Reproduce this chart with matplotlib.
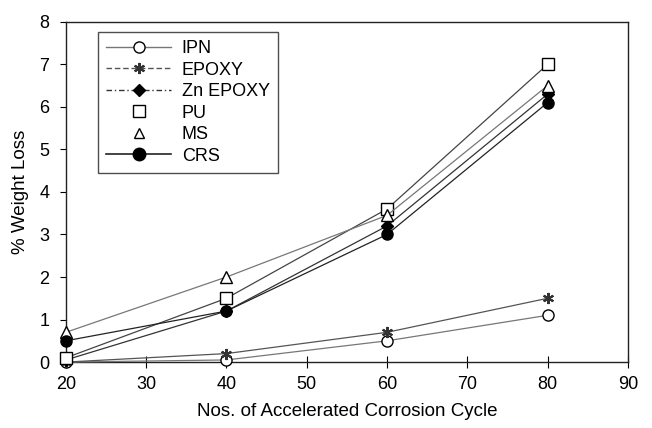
import matplotlib
matplotlib.use("Agg")
import matplotlib.pyplot as plt
from matplotlib.lines import Line2D

plt.rcParams['font.family'] = ['Liberation Sans', 'DejaVu Sans']

cycles = [20, 40, 60, 80]
ipn = [0.0, 0.05, 0.5, 1.1]
epoxy = [0.0, 0.2, 0.7, 1.5]
zn_epoxy = [0.05, 1.2, 3.2, 6.3]
pu = [0.1, 1.5, 3.6, 7.0]
ms = [0.7, 2.0, 3.45, 6.5]
crs = [0.5, 1.2, 3.0, 6.1]

x_ticks = [20, 30, 40, 50, 60, 70, 80, 90]
y_ticks = [0, 1, 2, 3, 4, 5, 6, 7, 8]

fig = plt.figure(figsize=(6.52, 4.28), dpi=100)
ax = fig.add_axes([0.101, 0.154, 0.862, 0.795])

ax.plot(cycles, ipn, color='#777777', lw=0.9, marker='o', ms=8, mfc='white', mec='black', mew=1.0, label='IPN', zorder=3, clip_on=False)
ax.plot(cycles, epoxy, color='#555555', lw=0.9, marker=(6, 2, 0), ms=8, mec='#333333', mew=1.5, label='EPOXY', zorder=3, clip_on=False)
ax.plot(cycles, zn_epoxy, color='#333333', lw=0.9, marker='D', ms=6, mfc='black', mec='black', label='Zn EPOXY', zorder=3, clip_on=False)
ax.plot(cycles, pu, color='#444444', lw=0.9, marker='s', ms=9, mfc='white', mec='black', mew=1.0, label='PU', zorder=3, clip_on=False)
ax.plot(cycles, ms, color='#777777', lw=0.9, marker='^', ms=9, mfc='white', mec='black', mew=1.0, label='MS', zorder=3, clip_on=False)
ax.plot(cycles, crs, color='#222222', lw=0.9, marker='o', ms=8, mfc='black', mec='black', label='CRS', zorder=3, clip_on=False)

ax.set_xlim(20, 90)
ax.set_ylim(0, 8)
ax.set_xticks(x_ticks)
ax.set_yticks(y_ticks)
ax.tick_params(axis='x', direction='inout', length=8, width=0.8, labelsize=13, pad=6)
ax.tick_params(axis='y', direction='out', length=4, width=0.8, labelsize=13, pad=8)
for s in ax.spines.values():
    s.set_linewidth(1.0)
    s.set_color('#222222')

ax.set_xlabel('Nos. of Accelerated Corrosion Cycle', fontsize=13.5, labelpad=7)
ax.set_ylabel('% Weight Loss', fontsize=13.5, labelpad=7)

handles = [
    Line2D([], [], color='#777777', lw=1.0, marker='o', ms=8, mfc='white', mec='black'),
    Line2D([], [], color='#555555', lw=1.0, ls=(0, (4, 2)), marker=(6, 2, 0), ms=8, mec='#333333', mew=1.5),
    Line2D([], [], color='#333333', lw=1.0, ls=(0, (4, 2, 1, 2)), marker='D', ms=6, mfc='black', mec='black'),
    Line2D([], [], color='none', marker='s', ms=8, mfc='white', mec='black'),
    Line2D([], [], color='none', marker='^', ms=7, mfc='white', mec='black'),
    Line2D([], [], color='#222222', lw=1.2, marker='o', ms=9, mfc='black', mec='black'),
]
labels = ['IPN', 'EPOXY', 'Zn EPOXY', 'PU', 'MS', 'CRS']
leg = ax.legend(handles, labels, loc='upper left', bbox_to_anchor=(0.057, 0.97), fontsize=13,
                frameon=True, fancybox=False, edgecolor='#222222', handlelength=3.6,
                labelspacing=0.25, borderpad=0.45, handletextpad=0.6, borderaxespad=0)
leg.get_frame().set_linewidth(1.0)

fig.savefig('out.png', dpi=100)
